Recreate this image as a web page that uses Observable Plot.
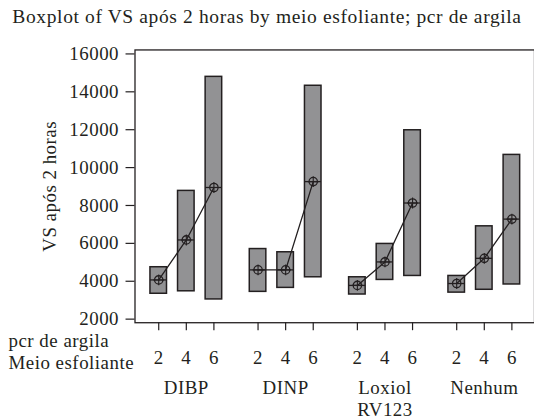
<!DOCTYPE html>
<html>
<head>
<meta charset="utf-8">
<script src="https://cdn.jsdelivr.net/npm/d3@7"></script>
<script src="https://cdn.jsdelivr.net/npm/@observablehq/plot@0.6"></script>
<style>
  html, body { margin: 0; padding: 0; background: #fff; overflow: hidden; width: 534px; height: 420px; }
  #title { height: 36px; box-sizing: border-box; padding-top: 6px; text-align: center; font-family: "Liberation Serif", serif; font-size: 19.5px; letter-spacing: 0.62px; color: #231f20; white-space: nowrap; width: 534px; }
  #chart svg { display: block; overflow: visible; }
  #chart svg, #chart svg text { font-family: "Liberation Serif", serif !important; letter-spacing: 0.5px; }
</style>
</head>
<body>
<div id="title">Boxplot of VS após 2 horas by meio esfoliante; pcr de argila</div>
<div id="chart"></div>
<script>
const groups = ["DIBP", "DINP", "Loxiol\nRV123", "Nenhum"];
const levels = [2, 4, 6];
const yTicks = [2000, 4000, 6000, 8000, 10000, 12000, 14000, 16000];
// box extents (low / high), median and mean for each group x level
const boxLow  = [[3340, 3470, 3040], [3440, 3650, 4210], [3300, 4070, 4280], [3400, 3550, 3830]];
const boxHigh = [[4740, 8770, 14790], [5700, 5530, 14320], [4210, 5970, 11970], [4280, 6900, 10670]];
const medians = [[4070, 6180, 8950], [4600, 4600, 9260], [3780, 5020, 8130], [3880, 5210, 7280]];
const means   = [[4070, 6180, 8950], [4600, 4600, 9260], [3780, 5020, 8130], [3880, 5210, 7280]];

const GROUP_STEP = 3.6;
const rows = [];
groups.forEach((g, gi) => levels.forEach((l, li) => rows.push({
  group: g, gi, level: l, pos: gi * GROUP_STEP + li,
  low: boxLow[gi][li], high: boxHigh[gi][li], median: medians[gi][li], mean: means[gi][li]
})));
const groupCenters = groups.map((g, gi) => gi * GROUP_STEP + 1);
const halfW = 0.3;
const ink = "#231f20";

const chart = Plot.plot({
  width: 536,
  height: 384,
  marginLeft: 135,
  marginRight: 0,
  marginTop: 13.5,
  marginBottom: 96.7,
  style: "font-family: 'Liberation Serif', serif; font-size: 19px; color: #231f20; background: transparent;",
  x: { domain: [-0.86, 12.8 + (536 - 513.3) / 27.7], axis: null },
  y: { domain: [2000, 16000], insetTop: 4, insetBottom: 3.6, axis: null },
  marks: [
    Plot.frame({ stroke: ink, strokeWidth: 1.3 }),
    Plot.axisY({ ticks: yTicks, tickSize: 9, tickPadding: 7, tickFormat: d => String(d), label: "VS após 2 horas", labelAnchor: "center", labelArrow: "none", labelOffset: 93, stroke: ink, strokeWidth: 1.2 }),
    Plot.axisX({ ticks: rows.map(r => r.pos), tickSize: 8, tickPadding: 20, tickFormat: p => String(rows.find(r => r.pos === p).level), label: null, stroke: ink, strokeWidth: 1.2 }),
    Plot.axisX({ ticks: groupCenters, tickSize: 0, tickPadding: 55, tickFormat: p => groups[groupCenters.indexOf(p)], label: null, lineHeight: 1.2 }),
    Plot.rect(rows, { x1: d => d.pos - halfW, x2: d => d.pos + halfW, y1: "low", y2: "high", fill: "#929294", stroke: ink, strokeWidth: 1.5 }),
    Plot.ruleY(rows, { x1: d => d.pos - halfW, x2: d => d.pos + halfW, y: "median", stroke: ink, strokeWidth: 1.3 }),
    Plot.line(rows, { x: "pos", y: "mean", z: "group", stroke: ink, strokeWidth: 1.3 }),
    Plot.dot(rows, { x: "pos", y: "mean", r: 4.2, stroke: ink, strokeWidth: 1.3, fill: "none" }),
    Plot.dot(rows, { x: "pos", y: "mean", r: 3.6, symbol: "plus", stroke: ink, strokeWidth: 1.1, fill: "none" }),
    Plot.text(["pcr de argila"], { text: d => d, frameAnchor: "bottom-left", textAnchor: "start", dx: -127, dy: 24, fill: ink }),
    Plot.text(["Meio esfoliante"], { text: d => d, frameAnchor: "bottom-left", textAnchor: "start", dx: -127, dy: 46, fill: ink })
  ]
});
document.getElementById("chart").appendChild(chart);
</script>
</body>
</html>
